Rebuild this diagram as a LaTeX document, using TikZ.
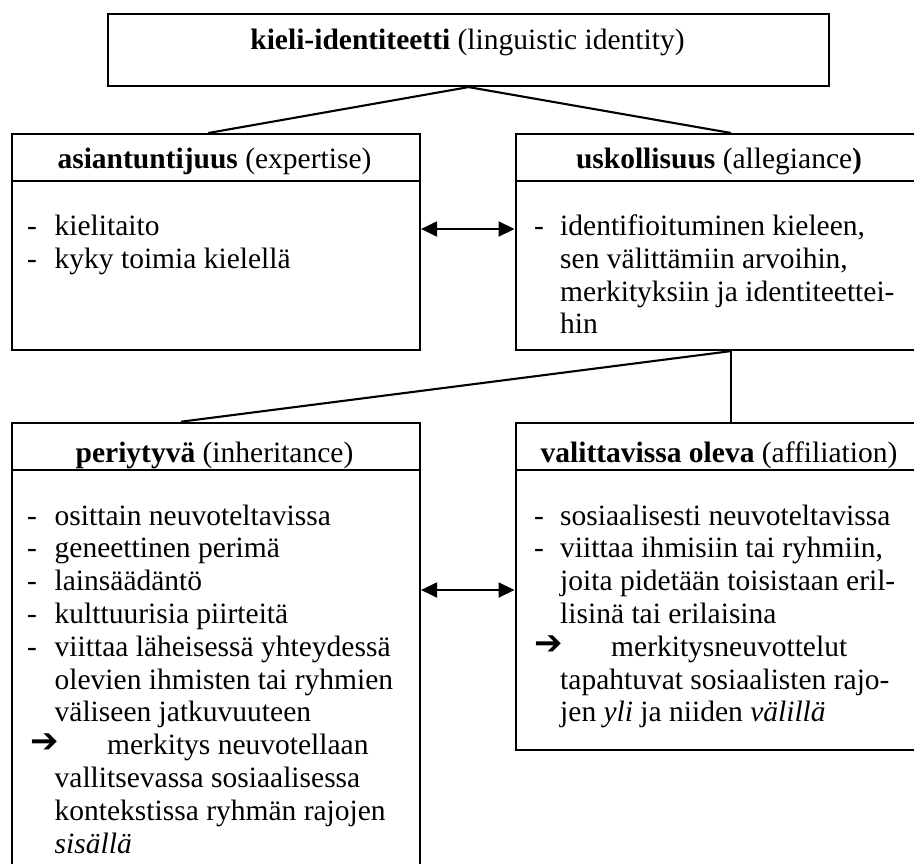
\documentclass[tikz,border=0pt]{standalone}
\usepackage{fontspec}
\setmainfont{Liberation Serif}
\newfontfamily\symfont{DejaVu Sans}
\usetikzlibrary{arrows.meta}
\begin{document}
\begin{tikzpicture}[x=1pt,y=-1pt,
  box/.style={draw, line width=2.1pt, rectangle, inner sep=0pt, anchor=north west},
  hdr/.style={anchor=base, inner sep=0pt, font=\fontsize{29.5}{32.8}\selectfont},
  txt/.style={anchor=base west, inner sep=0pt, font=\fontsize{29.5}{32.8}\selectfont},
  sym/.style={anchor=base west, inner sep=0pt, font=\symfont\bfseries\fontsize{34}{34}\selectfont},
  conn/.style={line width=2.1pt},
  thin/.style={line width=1.5pt},
  dbl/.style={line width=2.1pt, {Triangle[length=16pt,width=15pt]}-{Triangle[length=16pt,width=15pt]}}]
\useasboundingbox (0,0) rectangle (914,864);
% boxes
\node[box, minimum width=721pt, minimum height=72pt] (top) at (107,13) {};
\node[box, minimum width=408.5pt, minimum height=216pt] (exp) at (10.5,133) {};
\node[box, minimum width=431pt, minimum height=216pt] (alle) at (514.5,133) {};
\node[box, minimum width=408.5pt, minimum height=470pt] (inh) at (10.5,421.7) {};
\node[box, minimum width=431pt, minimum height=327.3pt] (aff) at (514.5,421.7) {};
% header separators
\draw[conn] (exp.west |- 0,181) -- (exp.east |- 0,181);
\draw[conn] (alle.west |- 0,181) -- (alle.east |- 0,181);
\draw[conn] (inh.west |- 0,470) -- (inh.east |- 0,470);
\draw[conn] (aff.west |- 0,470) -- (aff.east |- 0,470);
% headers
\node[hdr] (toph) at (467.5,50) {\textbf{kieli-identiteetti} (linguistic identity)};
\node[hdr] (exph) at (214.5,169) {\textbf{asiantuntijuus} (expertise)};
\node[hdr] (alleh) at (719,169) {\textbf{uskollisuus} (allegiance\textbf{)}};
\node[hdr] (inhh) at (214.5,462) {\textbf{periytyvä} (inheritance)};
\node[hdr] (affh) at (719,462) {\textbf{valittavissa oleva} (affiliation)};
% connectors
\draw[conn] (top.south) -- ([xshift=-7.5pt]exp.north);
\draw[conn] (top.south) -- (alle.north);
\draw[conn] (alle.south) -- ([xshift=-34.75pt]inh.north);
\draw[thin] (alle.south) -- (aff.north);
\coordinate (rowA) at (467,229);
\coordinate (rowB) at (467,590);
\draw[dbl] (exp.east |- rowA) -- (alle.west |- rowA);
\draw[dbl] (inh.east |- rowB) -- (aff.west |- rowB);
% expertise body
\node[txt] (ed1) at (27,235.5) {-};
\node[txt] (et1) at (54.5,235.5) {kielitaito};
\node[txt] (ed2) at (27,268.3) {-};
\node[txt] (et2) at (54.5,268.3) {kyky toimia kielellä};
% allegiance body
\node[txt] (ad1) at (534,235.5) {-};
\node[txt] (at1) at (560,235.5) {identifioituminen kieleen,};
\node[txt] (at2) at (560,268.3) {sen välittämiin arvoihin,};
\node[txt] (at3) at (560,301.1) {merkityksiin ja identiteettei-};
\node[txt] (at4) at (560,333.9) {hin};
% inheritance body
\node[txt] (id1) at (27,525) {-};
\node[txt] (it1) at (54.5,525) {osittain neuvoteltavissa};
\node[txt] (id2) at (27,557.8) {-};
\node[txt] (it2) at (54.5,557.8) {geneettinen perimä};
\node[txt] (id3) at (27,590.6) {-};
\node[txt] (it3) at (54.5,590.6) {lainsäädäntö};
\node[txt] (id4) at (27,623.4) {-};
\node[txt] (it4) at (54.5,623.4) {kulttuurisia piirteitä};
\node[txt] (id5) at (27,656.2) {-};
\node[txt] (it5) at (54.5,656.2) {viittaa läheisessä yhteydessä};
\node[txt] (it6) at (54.5,689) {olevien ihmisten tai ryhmien};
\node[txt] (it7) at (54.5,721.8) {väliseen jatkuvuuteen};
\node[sym] (ia8) at (30,752.6) {➔};
\node[txt] (it8) at (107,754.6) {merkitys neuvotellaan};
\node[txt] (it9) at (54.5,787.4) {vallitsevassa sosiaalisessa};
\node[txt] (it10) at (54.5,820.2) {kontekstissa ryhmän rajojen};
\node[txt] (it11) at (54.5,853) {\textit{sisällä}};
% affiliation body
\node[txt] (fd1) at (534,525) {-};
\node[txt] (ft1) at (560,525) {sosiaalisesti neuvoteltavissa};
\node[txt] (fd2) at (534,557.8) {-};
\node[txt] (ft2) at (560,557.8) {viittaa ihmisiin tai ryhmiin,};
\node[txt] (ft3) at (560,590.6) {joita pidetään toisistaan eril-};
\node[txt] (ft4) at (560,623.4) {lisinä tai erilaisina};
\node[sym] (fa5) at (534,654.2) {➔};
\node[txt] (ft5) at (611,656.2) {merkitysneuvottelut};
\node[txt] (ft6) at (560,689) {tapahtuvat sosiaalisten rajo-};
\node[txt] (ft7) at (560,721.8) {jen \textit{yli} ja niiden \textit{välillä}};
\end{tikzpicture}
\end{document}
